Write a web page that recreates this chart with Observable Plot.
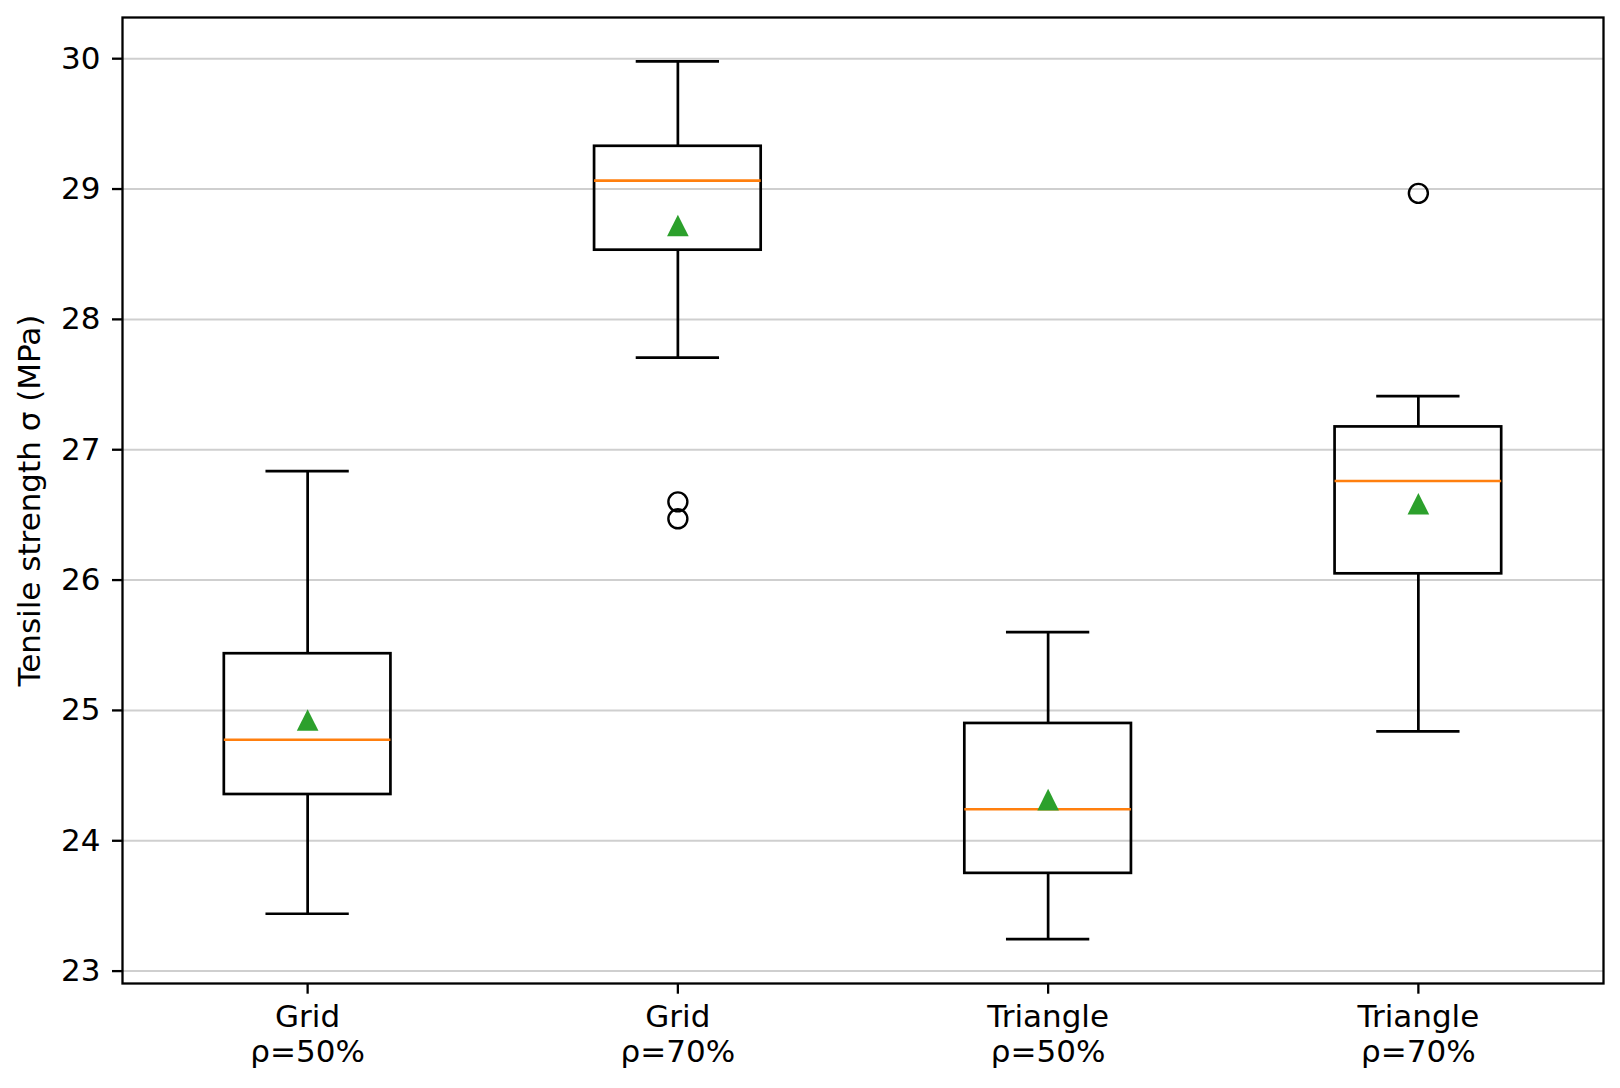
<!DOCTYPE html>
<html>
<head>
<meta charset="utf-8">
<script src="https://cdn.jsdelivr.net/npm/d3@7"></script>
<script src="https://cdn.jsdelivr.net/npm/@observablehq/plot@0.6"></script>
<style>
  html, body { margin: 0; padding: 0; background: #ffffff; }
  #chart { width: 1620px; height: 1088px; }
</style>
</head>
<body>
<div id="chart"></div>
<script>
// ---- data ----
const categories = ["Grid\nρ=50%", "Grid\nρ=70%", "Triangle\nρ=50%", "Triangle\nρ=70%"];
const whiskerLow  = [23.44, 27.706, 23.245, 24.839];
const q1          = [24.355, 28.531, 23.75, 26.048];
const medians     = [24.775, 29.064, 24.242, 26.76];
const q3          = [25.435, 29.328, 24.90, 27.175];
const whiskerHigh = [26.836, 29.979, 25.60, 27.412];
const means       = [24.926, 28.72, 24.316, 26.586];
const outlierGroup = [2, 2, 4];
const outlierValue = [26.60, 26.47, 28.967];
const yTicks = [23, 24, 25, 26, 27, 28, 29, 30];
const yLabel = "Tensile strength σ (MPa)";

// ---- table built from arrays ----
const boxes = categories.map((c, i) => ({
  pos: i + 1, lo: whiskerLow[i], q1: q1[i], med: medians[i], q3: q3[i], hi: whiskerHigh[i], mean: means[i]
}));
const outliers = outlierGroup.map((g, i) => ({pos: g, v: outlierValue[i]}));

// ---- styles ----
const boxHalf = 0.225, capHalf = 0.1125;
const lw = 2.7;
const fs = 31;
const tri = {
  draw(ctx, size) {
    const r = Math.sqrt(size / Math.PI);
    ctx.moveTo(0, -r); ctx.lineTo(r, r); ctx.lineTo(-r, r); ctx.closePath();
  }
};

const chart = Plot.plot({
  width: 1620,
  height: 1088,
  marginLeft: 122,
  marginRight: 17,
  marginTop: 17,
  marginBottom: 105,
  style: {fontFamily: "DejaVu Sans", background: "#ffffff", color: "#000000"},
  x: {domain: [0.5, 4.5]},
  y: {domain: [22.905, 30.316]},
  marks: [
    Plot.gridY(yTicks, {stroke: "#cfcfcf", strokeOpacity: 1, strokeWidth: 2}),
    // whiskers
    Plot.ruleX(boxes, {x: "pos", y1: "q3", y2: "hi", stroke: "#000", strokeWidth: lw}),
    Plot.ruleX(boxes, {x: "pos", y1: "lo", y2: "q1", stroke: "#000", strokeWidth: lw}),
    // caps
    Plot.ruleY(boxes, {y: "hi", x1: d => d.pos - capHalf, x2: d => d.pos + capHalf, stroke: "#000", strokeWidth: lw}),
    Plot.ruleY(boxes, {y: "lo", x1: d => d.pos - capHalf, x2: d => d.pos + capHalf, stroke: "#000", strokeWidth: lw}),
    // boxes
    Plot.rect(boxes, {x1: d => d.pos - boxHalf, x2: d => d.pos + boxHalf, y1: "q1", y2: "q3", fill: "none", stroke: "#000", strokeWidth: lw}),
    // medians
    Plot.ruleY(boxes, {y: "med", x1: d => d.pos - boxHalf, x2: d => d.pos + boxHalf, stroke: "#ff7f0e", strokeWidth: lw}),
    // means
    Plot.dot(boxes, {x: "pos", y: "mean", symbol: tri, r: 10.8, fill: "#2ca02c", stroke: "none"}),
    // outliers
    Plot.dot(outliers, {x: "pos", y: "v", r: 9.5, fill: "none", stroke: "#000", strokeWidth: 2.4}),
    Plot.frame({stroke: "#000", strokeWidth: 2.3}),
    Plot.axisY({ticks: yTicks, tickFormat: d => String(d), tickSize: 10, tickPadding: 12, fontSize: fs, label: null, strokeWidth: 2.3}),
    Plot.axisX({ticks: [1, 2, 3, 4], tickFormat: d => categories[d - 1], tickSize: 10.7, tickPadding: 8.5, fontSize: fs, lineHeight: 1.11, label: null, strokeWidth: 2.3}),
    Plot.text([yLabel], {text: d => d, frameAnchor: "left", textAnchor: "middle", rotate: -90, dx: -92, fontSize: fs, fill: "#000"})
  ]
});
document.getElementById("chart").appendChild(chart);
</script>
</body>
</html>
